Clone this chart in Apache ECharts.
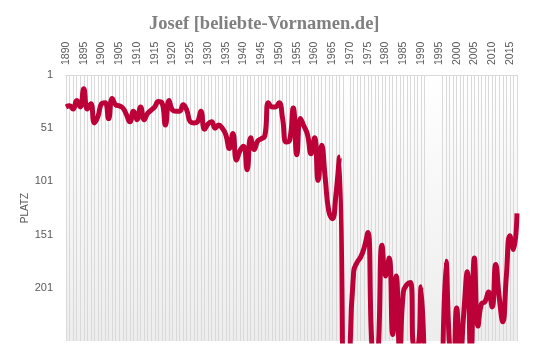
<!DOCTYPE html>
<html><head><meta charset="utf-8">
<script src="https://cdn.jsdelivr.net/npm/echarts@6/dist/echarts.min.js"></script>
<style>html,body{margin:0;padding:0;background:#fff}#c{width:533px;height:355px}</style>
</head><body><div id="c"></div>
<script>
const titleText = 'Josef [beliebte-Vornamen.de]';
const axisName = 'PLATZ';
const years = [
 '1890','1891','1892','1893','1894','1895','1896','1897','1898','1899',
 '1900','1901','1902','1903','1904','1905','1906','1907','1908','1909',
 '1910','1911','1912','1913','1914','1915','1916','1917','1918','1919',
 '1920','1921','1922','1923','1924','1925','1926','1927','1928','1929',
 '1930','1931','1932','1933','1934','1935','1936','1937','1938','1939',
 '1940','1941','1942','1943','1944','1945','1946','1947','1948','1949',
 '1950','1951','1952','1953','1954','1955','1956','1957','1958','1959',
 '1960','1961','1962','1963','1964','1965','1966','1967','1968','1969',
 '1970','1971','1972','1973','1974','1975','1976','1977','1978','1979',
 '1980','1981','1982','1983','1984','1985','1986','1987','1988','1989',
 '1990','1991','1992','1993','1994','1995','1996','1997','1998','1999',
 '2000','2001','2002','2003','2004','2005','2006','2007','2008','2009',
 '2010','2011','2012','2013','2014','2015','2016','2017'
];
// rank per year (null = not ranked that year)
const ranks = [
 31,30,33,25,31,14,33,28,46,40,
 28,27,42,23,29,30,32,38,45,35,
 43,31,43,37,34,31,26,27,48,25,
 34,35,35,29,34,45,46,45,35,52,
 47,45,51,48,51,57,70,56,81,72,
 68,90,60,71,63,61,58,27,31,31,
 27,42,64,62,32,76,42,49,57,75,
 60,100,67,98,129,136,114,78,400,null,
 262,186,177,172,163,149,245,300,255,161,
 190,173,245,190,262,205,198,196,255,255,
 200,300,null,null,null,null,300,176,255,280,
 220,270,225,186,270,173,237,216,214,205,
 219,179,210,233,190,152,165,131
];
const yTicks = [1, 51, 101, 151, 201];

const chart = echarts.init(document.getElementById('c'), null, {renderer: 'canvas'});
chart.setOption({
  animation: false,
  backgroundColor: '#ffffff',
  title: {
    text: titleText, left: 144, top: 10,
    textStyle: {fontFamily: 'Liberation Serif', fontWeight: 'bold', fontSize: 18.5, color: '#808080'}
  },
  grid: {
    left: 66, right: 16, top: 75, bottom: 14, show: true, borderWidth: 0,
    backgroundColor: new echarts.graphic.LinearGradient(0, 0, 0, 1, [
      {offset: 0, color: '#ffffff'}, {offset: 1, color: '#ededed'}
    ])
  },
  xAxis: {
    type: 'category', position: 'top', data: years, boundaryGap: false,
    axisLine: {show: true, lineStyle: {color: '#d9d9d9', width: 1}},
    axisTick: {show: false},
    axisLabel: {
      interval: (i, v) => Number(v) % 5 === 0, rotate: -90, margin: 10,
      color: '#595959', fontSize: 10.5, fontFamily: 'Liberation Sans'
    },
    splitLine: {show: true, interval: (i) => ranks[i] !== null, lineStyle: {color: '#d9d9d9', width: 1}}
  },
  yAxis: {
    type: 'value', inverse: true, min: 1, max: 251,
    name: axisName, nameLocation: 'middle', nameGap: 36, nameRotate: 90, nameMoveOverlap: false,
    nameTextStyle: {color: '#595959', fontSize: 10, fontFamily: 'Liberation Sans'},
    axisLine: {show: false}, axisTick: {show: false}, splitLine: {show: false},
    axisLabel: {customValues: yTicks, color: '#595959', fontSize: 11, margin: 13, fontFamily: 'Liberation Sans'}
  },
  series: [{
    type: 'line', data: ranks, smooth: true, symbol: 'none', connectNulls: false, clip: true,
    lineStyle: {color: '#bc0038', width: 5}
  }]
});
</script></body></html>
